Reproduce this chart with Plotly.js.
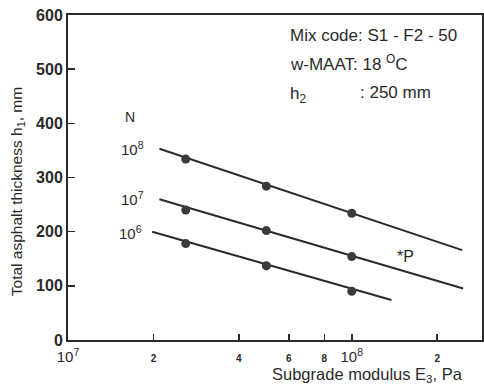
<!DOCTYPE html>
<html><head><meta charset="utf-8">
<script src="https://cdn.plot.ly/plotly-3.0.1.min.js"></script>
<style>html,body{margin:0;padding:0;background:#fff}#c{width:484px;height:385px}</style>
</head><body><div id="c"></div>
<script>
// Measured points (subgrade modulus E3 in Pa, thickness h1 in mm)
const E_points = [2.6e7, 5e7, 1e8];
const h_N8 = [334, 284, 234];
const h_N7 = [240, 202, 154];
const h_N6 = [178, 137, 90];
// Fitted line extents
const E_line_N8 = [2.1e7, 2.45e8];
const h_line_N8 = [353, 166];
const E_line_N7 = [2.1e7, 2.47e8];
const h_line_N7 = [260, 95];
const E_line_N6 = [1.98e7, 1.38e8];
const h_line_N6 = [200, 74];
// Axis ticks
const xTickVals = [1e7, 2e7, 4e7, 6e7, 8e7, 1e8, 2e8];
const xTickText = ['10<sup>7</sup>', '2', '4', '6', '8', '10<sup>8</sup>', '2'];
const yTickVals = [0, 100, 200, 300, 400, 500, 600];

const ink = '#2a2a2a';
const fontFam = 'Liberation Sans, Arial, sans-serif';
const small = t => (t.indexOf('sup') >= 0 ? t : '<span style="font-size:10px;font-weight:bold">' + t + '</span>');

const lineTr = (x, y) => ({x, y, mode: 'lines', type: 'scatter', line: {color: ink, width: 2}, hoverinfo: 'skip', showlegend: false});
const ptTr = (y) => ({x: E_points, y, mode: 'markers', type: 'scatter', marker: {color: '#3a3a3a', size: 9}, showlegend: false});

const data = [
  lineTr(E_line_N8, h_line_N8), lineTr(E_line_N7, h_line_N7), lineTr(E_line_N6, h_line_N6),
  ptTr(h_N8), ptTr(h_N7), ptTr(h_N6)
];

const ann = (text, x, y, opts) => Object.assign({text, x, y, xref: 'paper', yref: 'paper', showarrow: false,
  font: {family: fontFam, size: 15, color: ink}, xanchor: 'center', yanchor: 'middle'}, opts || {});
const f = s => ({family: fontFam, size: s, color: ink});

const layout = {
  width: 484, height: 385,
  margin: {l: 68, r: 2, t: 15, b: 45},
  paper_bgcolor: '#fff', plot_bgcolor: '#fff',
  font: {family: fontFam, color: ink},
  xaxis: {type: 'log', range: [7, 8.459], showgrid: false, zeroline: false,
    showline: true, mirror: true, linecolor: ink, linewidth: 2,
    ticks: 'inside', ticklen: 6, tickwidth: 1.5, tickcolor: ink, ticklabelstandoff: 2,
    tickvals: xTickVals, ticktext: xTickText.map(small),
    tickfont: {family: fontFam, size: 15, color: ink}},
  yaxis: {range: [0, 600], showgrid: false, zeroline: false,
    showline: true, mirror: true, linecolor: ink, linewidth: 2,
    ticks: 'inside', ticklen: 7, tickwidth: 1.5, tickcolor: ink,
    tickvals: yTickVals, tickfont: {family: fontFam, size: 16, color: ink, weight: 'bold'}},
  annotations: [
    ann('Total asphalt thickness h<sub>1</sub>, mm', -0.123, 0.455, {textangle: -90, font: f(15.5)}),
    ann('Subgrade modulus E<sub>3</sub>, Pa', 0.959, -0.108, {xanchor: 'right', font: f(16.5)}),
    ann('N', 0.150, 0.686, {font: f(14)}),
    ann('10<sup>8</sup>', 0.157, 0.588),
    ann('10<sup>7</sup>', 0.157, 0.434),
    ann('10<sup>6</sup>', 0.152, 0.332),
    ann('*P', 0.816, 0.258, {font: f(16)}),
    ann('Mix code: S1 - F2 - 50', 0.531, 0.938, {xanchor: 'left', font: f(17)}),
    ann('w-MAAT: 18 <sup>O</sup>C', 0.531, 0.852, {xanchor: 'left', font: f(17)}),
    ann('h<sub>2</sub>', 0.531, 0.755, {xanchor: 'left', font: f(17)}),
    ann(': 250 mm', 0.700, 0.763, {xanchor: 'left', font: f(17)})
  ]
};
Plotly.newPlot('c', data, layout, {staticPlot: true, displayModeBar: false});
</script></body></html>
